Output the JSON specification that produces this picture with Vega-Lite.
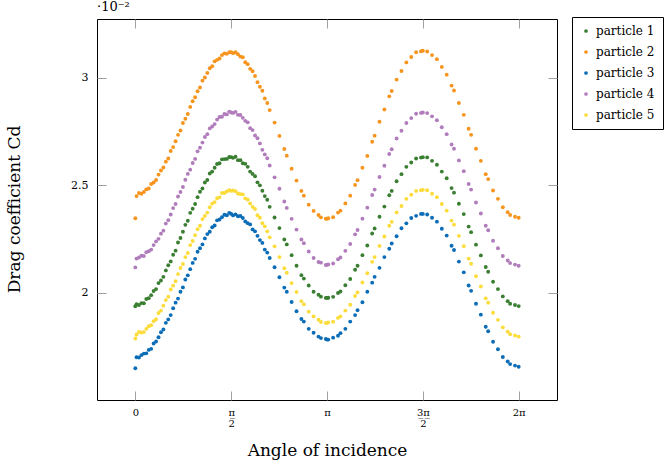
{
"$schema": "https://vega.github.io/schema/vega-lite/v6.json",
"width": 460, "height": 381,
"autosize": {"type": "none"},
"padding": {"left": 97, "top": 19, "right": 107, "bottom": 67},
"title": {"text": "·10⁻²", "anchor": "start", "frame": "group", "fontSize": 13, "font": "DejaVu Serif", "fontWeight": "normal", "offset": 3, "color": "black"},
"config": {
  "view": {"stroke": "black", "strokeWidth": 1},
  "font": "DejaVu Serif",
  "axis": {"labelFont": "DejaVu Serif", "titleFont": "DejaVu Serif", "labelColor": "black", "titleColor": "black", "tickColor": "#a0a0a0", "tickWidth": 1, "tickSize": -9, "domain": false, "grid": false, "titleFontWeight": "normal"},
  "legend": {"labelFont": "DejaVu Serif"}
},
"datasets": {
"p1": [{"a":0,"cd":0.01936},{"a":0.02,"cd":0.01946},{"a":0.06,"cd":0.01942},{"a":0.1,"cd":0.01951},{"a":0.14,"cd":0.0195},{"a":0.18,"cd":0.0197},{"a":0.22,"cd":0.01974},{"a":0.26,"cd":0.01988},{"a":0.3,"cd":0.02007},{"a":0.34,"cd":0.02016},{"a":0.38,"cd":0.02044},{"a":0.42,"cd":0.02056},{"a":0.46,"cd":0.02073},{"a":0.5,"cd":0.02103},{"a":0.54,"cd":0.02127},{"a":0.58,"cd":0.02145},{"a":0.62,"cd":0.02176},{"a":0.66,"cd":0.02195},{"a":0.7,"cd":0.02233},{"a":0.74,"cd":0.02254},{"a":0.78,"cd":0.02283},{"a":0.82,"cd":0.02315},{"a":0.86,"cd":0.02334},{"a":0.9,"cd":0.02371},{"a":0.94,"cd":0.0239},{"a":0.98,"cd":0.02412},{"a":1.02,"cd":0.02444},{"a":1.06,"cd":0.02469},{"a":1.1,"cd":0.02484},{"a":1.14,"cd":0.02512},{"a":1.18,"cd":0.02524},{"a":1.22,"cd":0.02554},{"a":1.26,"cd":0.02563},{"a":1.3,"cd":0.02581},{"a":1.34,"cd":0.02598},{"a":1.38,"cd":0.02602},{"a":1.42,"cd":0.0262},{"a":1.46,"cd":0.02621},{"a":1.5,"cd":0.02622},{"a":1.54,"cd":0.02631},{"a":1.571,"cd":0.0263},{"a":1.602,"cd":0.02627},{"a":1.642,"cd":0.02632},{"a":1.682,"cd":0.02616},{"a":1.722,"cd":0.02616},{"a":1.762,"cd":0.02602},{"a":1.802,"cd":0.02599},{"a":1.842,"cd":0.02585},{"a":1.882,"cd":0.02563},{"a":1.922,"cd":0.02552},{"a":1.962,"cd":0.02541},{"a":2.002,"cd":0.02513},{"a":2.042,"cd":0.02499},{"a":2.082,"cd":0.02474},{"a":2.122,"cd":0.02449},{"a":2.162,"cd":0.02432},{"a":2.202,"cd":0.02399},{"a":2.282,"cd":0.02349},{"a":2.362,"cd":0.023},{"a":2.442,"cd":0.02247},{"a":2.482,"cd":0.02224},{"a":2.562,"cd":0.02174},{"a":2.642,"cd":0.02125},{"a":2.722,"cd":0.02081},{"a":2.762,"cd":0.02065},{"a":2.842,"cd":0.02033},{"a":2.922,"cd":0.02004},{"a":3.002,"cd":0.0199},{"a":3.042,"cd":0.01981},{"a":3.122,"cd":0.01975},{"a":3.142,"cd":0.01975},{"a":3.162,"cd":0.01976},{"a":3.242,"cd":0.0198},{"a":3.322,"cd":0.01998},{"a":3.362,"cd":0.02005},{"a":3.442,"cd":0.02034},{"a":3.522,"cd":0.02063},{"a":3.602,"cd":0.02106},{"a":3.642,"cd":0.02125},{"a":3.722,"cd":0.02174},{"a":3.802,"cd":0.02219},{"a":3.882,"cd":0.02275},{"a":3.922,"cd":0.02298},{"a":4.002,"cd":0.02353},{"a":4.082,"cd":0.024},{"a":4.162,"cd":0.02453},{"a":4.202,"cd":0.02473},{"a":4.282,"cd":0.02518},{"a":4.362,"cd":0.02551},{"a":4.442,"cd":0.02585},{"a":4.522,"cd":0.02605},{"a":4.602,"cd":0.02624},{"a":4.682,"cd":0.02628},{"a":4.712,"cd":0.0263},{"a":4.783,"cd":0.02629},{"a":4.863,"cd":0.02613},{"a":4.943,"cd":0.02595},{"a":5.023,"cd":0.02563},{"a":5.103,"cd":0.02532},{"a":5.183,"cd":0.02486},{"a":5.223,"cd":0.02465},{"a":5.303,"cd":0.02413},{"a":5.383,"cd":0.02365},{"a":5.463,"cd":0.02307},{"a":5.503,"cd":0.02281},{"a":5.583,"cd":0.02223},{"a":5.663,"cd":0.02173},{"a":5.743,"cd":0.02119},{"a":5.783,"cd":0.02097},{"a":5.863,"cd":0.0205},{"a":5.943,"cd":0.02016},{"a":6.023,"cd":0.01982},{"a":6.103,"cd":0.0196},{"a":6.143,"cd":0.01948},{"a":6.223,"cd":0.01942},{"a":6.283,"cd":0.01937}],
"p2": [{"a":0,"cd":0.02346},{"a":0.02,"cd":0.02449},{"a":0.06,"cd":0.02463},{"a":0.1,"cd":0.0246},{"a":0.14,"cd":0.02468},{"a":0.18,"cd":0.0248},{"a":0.22,"cd":0.02484},{"a":0.26,"cd":0.02505},{"a":0.3,"cd":0.02512},{"a":0.34,"cd":0.02524},{"a":0.38,"cd":0.02549},{"a":0.42,"cd":0.02568},{"a":0.46,"cd":0.02582},{"a":0.5,"cd":0.02609},{"a":0.54,"cd":0.02624},{"a":0.58,"cd":0.02659},{"a":0.62,"cd":0.02677},{"a":0.66,"cd":0.02704},{"a":0.7,"cd":0.02734},{"a":0.74,"cd":0.02754},{"a":0.78,"cd":0.02789},{"a":0.82,"cd":0.02809},{"a":0.86,"cd":0.02831},{"a":0.9,"cd":0.02864},{"a":0.94,"cd":0.0289},{"a":0.98,"cd":0.02909},{"a":1.02,"cd":0.02937},{"a":1.06,"cd":0.02954},{"a":1.1,"cd":0.02986},{"a":1.14,"cd":0.03001},{"a":1.18,"cd":0.03022},{"a":1.22,"cd":0.03044},{"a":1.26,"cd":0.03053},{"a":1.3,"cd":0.03076},{"a":1.34,"cd":0.03083},{"a":1.38,"cd":0.03089},{"a":1.42,"cd":0.03105},{"a":1.46,"cd":0.03113},{"a":1.5,"cd":0.03111},{"a":1.54,"cd":0.03118},{"a":1.571,"cd":0.03118},{"a":1.602,"cd":0.03114},{"a":1.642,"cd":0.03118},{"a":1.682,"cd":0.03109},{"a":1.722,"cd":0.03098},{"a":1.762,"cd":0.03095},{"a":1.802,"cd":0.03072},{"a":1.842,"cd":0.03063},{"a":1.882,"cd":0.03041},{"a":1.922,"cd":0.0303},{"a":1.962,"cd":0.03008},{"a":2.002,"cd":0.02979},{"a":2.042,"cd":0.02958},{"a":2.082,"cd":0.02939},{"a":2.122,"cd":0.02903},{"a":2.162,"cd":0.02882},{"a":2.202,"cd":0.02849},{"a":2.282,"cd":0.02791},{"a":2.362,"cd":0.02729},{"a":2.442,"cd":0.02668},{"a":2.482,"cd":0.02637},{"a":2.562,"cd":0.02576},{"a":2.642,"cd":0.02521},{"a":2.722,"cd":0.02473},{"a":2.762,"cd":0.02451},{"a":2.842,"cd":0.02409},{"a":2.922,"cd":0.0238},{"a":3.002,"cd":0.02361},{"a":3.042,"cd":0.0235},{"a":3.122,"cd":0.02344},{"a":3.142,"cd":0.02343},{"a":3.162,"cd":0.02346},{"a":3.242,"cd":0.02351},{"a":3.322,"cd":0.02372},{"a":3.362,"cd":0.02381},{"a":3.442,"cd":0.02415},{"a":3.522,"cd":0.02451},{"a":3.602,"cd":0.02501},{"a":3.642,"cd":0.02523},{"a":3.722,"cd":0.02581},{"a":3.802,"cd":0.02636},{"a":3.882,"cd":0.02702},{"a":3.922,"cd":0.0273},{"a":4.002,"cd":0.02795},{"a":4.082,"cd":0.02852},{"a":4.162,"cd":0.02913},{"a":4.202,"cd":0.02938},{"a":4.282,"cd":0.02991},{"a":4.362,"cd":0.03031},{"a":4.442,"cd":0.03071},{"a":4.522,"cd":0.03096},{"a":4.602,"cd":0.03118},{"a":4.682,"cd":0.03123},{"a":4.712,"cd":0.03125},{"a":4.783,"cd":0.03122},{"a":4.863,"cd":0.03105},{"a":4.943,"cd":0.03086},{"a":5.023,"cd":0.0305},{"a":5.103,"cd":0.03014},{"a":5.183,"cd":0.02963},{"a":5.223,"cd":0.0294},{"a":5.303,"cd":0.02882},{"a":5.383,"cd":0.02827},{"a":5.463,"cd":0.02762},{"a":5.503,"cd":0.02734},{"a":5.583,"cd":0.02669},{"a":5.663,"cd":0.02613},{"a":5.743,"cd":0.02551},{"a":5.783,"cd":0.02528},{"a":5.863,"cd":0.02475},{"a":5.943,"cd":0.02436},{"a":6.023,"cd":0.02397},{"a":6.103,"cd":0.02374},{"a":6.143,"cd":0.02361},{"a":6.223,"cd":0.02353},{"a":6.283,"cd":0.02348}],
"p3": [{"a":0,"cd":0.01648},{"a":0.02,"cd":0.01699},{"a":0.06,"cd":0.01698},{"a":0.1,"cd":0.01709},{"a":0.14,"cd":0.01716},{"a":0.18,"cd":0.01717},{"a":0.22,"cd":0.01733},{"a":0.26,"cd":0.01738},{"a":0.3,"cd":0.01763},{"a":0.34,"cd":0.01772},{"a":0.38,"cd":0.01792},{"a":0.42,"cd":0.01815},{"a":0.46,"cd":0.01828},{"a":0.5,"cd":0.01859},{"a":0.54,"cd":0.01875},{"a":0.58,"cd":0.01895},{"a":0.62,"cd":0.01927},{"a":0.66,"cd":0.01953},{"a":0.7,"cd":0.01972},{"a":0.74,"cd":0.02004},{"a":0.78,"cd":0.02024},{"a":0.82,"cd":0.02061},{"a":0.86,"cd":0.0208},{"a":0.9,"cd":0.02109},{"a":0.94,"cd":0.02138},{"a":0.98,"cd":0.02157},{"a":1.02,"cd":0.0219},{"a":1.06,"cd":0.02206},{"a":1.1,"cd":0.02224},{"a":1.14,"cd":0.02252},{"a":1.18,"cd":0.02272},{"a":1.22,"cd":0.02283},{"a":1.26,"cd":0.02304},{"a":1.3,"cd":0.02312},{"a":1.34,"cd":0.02336},{"a":1.38,"cd":0.0234},{"a":1.42,"cd":0.02351},{"a":1.46,"cd":0.02362},{"a":1.5,"cd":0.0236},{"a":1.54,"cd":0.02371},{"a":1.571,"cd":0.02366},{"a":1.602,"cd":0.02359},{"a":1.642,"cd":0.02364},{"a":1.682,"cd":0.02355},{"a":1.722,"cd":0.02356},{"a":1.762,"cd":0.02347},{"a":1.802,"cd":0.02331},{"a":1.842,"cd":0.02323},{"a":1.882,"cd":0.02317},{"a":1.922,"cd":0.02294},{"a":1.962,"cd":0.02285},{"a":2.002,"cd":0.02264},{"a":2.042,"cd":0.02244},{"a":2.082,"cd":0.02231},{"a":2.122,"cd":0.022},{"a":2.162,"cd":0.02186},{"a":2.202,"cd":0.02161},{"a":2.282,"cd":0.02118},{"a":2.362,"cd":0.02071},{"a":2.442,"cd":0.02023},{"a":2.482,"cd":0.02004},{"a":2.562,"cd":0.01956},{"a":2.642,"cd":0.01913},{"a":2.722,"cd":0.01877},{"a":2.762,"cd":0.01865},{"a":2.842,"cd":0.01831},{"a":2.922,"cd":0.01813},{"a":3.002,"cd":0.01795},{"a":3.042,"cd":0.01788},{"a":3.122,"cd":0.01784},{"a":3.142,"cd":0.01781},{"a":3.162,"cd":0.01781},{"a":3.242,"cd":0.0179},{"a":3.322,"cd":0.01799},{"a":3.362,"cd":0.01811},{"a":3.442,"cd":0.01831},{"a":3.522,"cd":0.01865},{"a":3.602,"cd":0.01895},{"a":3.642,"cd":0.01918},{"a":3.722,"cd":0.01955},{"a":3.802,"cd":0.02004},{"a":3.882,"cd":0.02046},{"a":3.922,"cd":0.02073},{"a":4.002,"cd":0.02115},{"a":4.082,"cd":0.02165},{"a":4.162,"cd":0.02204},{"a":4.202,"cd":0.02228},{"a":4.282,"cd":0.02262},{"a":4.362,"cd":0.02299},{"a":4.442,"cd":0.02322},{"a":4.522,"cd":0.02347},{"a":4.602,"cd":0.02357},{"a":4.682,"cd":0.02366},{"a":4.712,"cd":0.02366},{"a":4.783,"cd":0.02363},{"a":4.863,"cd":0.02348},{"a":4.943,"cd":0.0233},{"a":5.023,"cd":0.02297},{"a":5.103,"cd":0.02265},{"a":5.183,"cd":0.02218},{"a":5.223,"cd":0.02198},{"a":5.303,"cd":0.02144},{"a":5.383,"cd":0.02094},{"a":5.463,"cd":0.02033},{"a":5.503,"cd":0.02008},{"a":5.583,"cd":0.01948},{"a":5.663,"cd":0.01897},{"a":5.743,"cd":0.01841},{"a":5.783,"cd":0.0182},{"a":5.863,"cd":0.01771},{"a":5.943,"cd":0.01736},{"a":6.023,"cd":0.017},{"a":6.103,"cd":0.01679},{"a":6.143,"cd":0.01667},{"a":6.223,"cd":0.0166},{"a":6.283,"cd":0.01655}],
"p4": [{"a":0,"cd":0.02117},{"a":0.02,"cd":0.02158},{"a":0.06,"cd":0.02163},{"a":0.1,"cd":0.02171},{"a":0.14,"cd":0.0217},{"a":0.18,"cd":0.02188},{"a":0.22,"cd":0.02192},{"a":0.26,"cd":0.022},{"a":0.3,"cd":0.02221},{"a":0.34,"cd":0.02238},{"a":0.38,"cd":0.0225},{"a":0.42,"cd":0.02274},{"a":0.46,"cd":0.02288},{"a":0.5,"cd":0.02321},{"a":0.54,"cd":0.02337},{"a":0.58,"cd":0.02363},{"a":0.62,"cd":0.02393},{"a":0.66,"cd":0.02412},{"a":0.7,"cd":0.02447},{"a":0.74,"cd":0.02468},{"a":0.78,"cd":0.02491},{"a":0.82,"cd":0.02525},{"a":0.86,"cd":0.02552},{"a":0.9,"cd":0.02572},{"a":0.94,"cd":0.02603},{"a":0.98,"cd":0.02622},{"a":1.02,"cd":0.02657},{"a":1.06,"cd":0.02674},{"a":1.1,"cd":0.02698},{"a":1.14,"cd":0.02724},{"a":1.18,"cd":0.02737},{"a":1.22,"cd":0.02764},{"a":1.26,"cd":0.02773},{"a":1.3,"cd":0.02784},{"a":1.34,"cd":0.02805},{"a":1.38,"cd":0.02817},{"a":1.42,"cd":0.02818},{"a":1.46,"cd":0.02831},{"a":1.5,"cd":0.02829},{"a":1.54,"cd":0.02842},{"a":1.571,"cd":0.02838},{"a":1.602,"cd":0.02836},{"a":1.642,"cd":0.02841},{"a":1.682,"cd":0.02827},{"a":1.722,"cd":0.02826},{"a":1.762,"cd":0.02813},{"a":1.802,"cd":0.02799},{"a":1.842,"cd":0.02792},{"a":1.882,"cd":0.02765},{"a":1.922,"cd":0.02756},{"a":1.962,"cd":0.02731},{"a":2.002,"cd":0.02718},{"a":2.042,"cd":0.02694},{"a":2.082,"cd":0.02664},{"a":2.122,"cd":0.02643},{"a":2.162,"cd":0.02625},{"a":2.202,"cd":0.02591},{"a":2.282,"cd":0.02536},{"a":2.362,"cd":0.02483},{"a":2.442,"cd":0.02424},{"a":2.482,"cd":0.02394},{"a":2.562,"cd":0.02343},{"a":2.642,"cd":0.02293},{"a":2.722,"cd":0.02247},{"a":2.762,"cd":0.0223},{"a":2.842,"cd":0.02191},{"a":2.922,"cd":0.02161},{"a":3.002,"cd":0.02142},{"a":3.042,"cd":0.02139},{"a":3.122,"cd":0.02128},{"a":3.142,"cd":0.02129},{"a":3.162,"cd":0.02131},{"a":3.242,"cd":0.02135},{"a":3.322,"cd":0.02155},{"a":3.362,"cd":0.02163},{"a":3.442,"cd":0.02194},{"a":3.522,"cd":0.02226},{"a":3.602,"cd":0.02271},{"a":3.642,"cd":0.02291},{"a":3.722,"cd":0.02344},{"a":3.802,"cd":0.02395},{"a":3.882,"cd":0.02454},{"a":3.922,"cd":0.02479},{"a":4.002,"cd":0.02538},{"a":4.082,"cd":0.0259},{"a":4.162,"cd":0.02645},{"a":4.202,"cd":0.02667},{"a":4.282,"cd":0.02717},{"a":4.362,"cd":0.02753},{"a":4.442,"cd":0.02789},{"a":4.522,"cd":0.02812},{"a":4.602,"cd":0.02832},{"a":4.682,"cd":0.02836},{"a":4.712,"cd":0.02838},{"a":4.783,"cd":0.02835},{"a":4.863,"cd":0.0282},{"a":4.943,"cd":0.02802},{"a":5.023,"cd":0.02769},{"a":5.103,"cd":0.02737},{"a":5.183,"cd":0.02689},{"a":5.223,"cd":0.02669},{"a":5.303,"cd":0.02615},{"a":5.383,"cd":0.02565},{"a":5.463,"cd":0.02505},{"a":5.503,"cd":0.02479},{"a":5.583,"cd":0.02419},{"a":5.663,"cd":0.02368},{"a":5.743,"cd":0.02311},{"a":5.783,"cd":0.0229},{"a":5.863,"cd":0.02241},{"a":5.943,"cd":0.02206},{"a":6.023,"cd":0.0217},{"a":6.103,"cd":0.02149},{"a":6.143,"cd":0.02137},{"a":6.223,"cd":0.0213},{"a":6.283,"cd":0.02125}],
"p5": [{"a":0,"cd":0.01786},{"a":0.02,"cd":0.01805},{"a":0.06,"cd":0.01817},{"a":0.1,"cd":0.01814},{"a":0.14,"cd":0.01816},{"a":0.18,"cd":0.01831},{"a":0.22,"cd":0.01843},{"a":0.26,"cd":0.01848},{"a":0.3,"cd":0.01867},{"a":0.34,"cd":0.01876},{"a":0.38,"cd":0.01905},{"a":0.42,"cd":0.01916},{"a":0.46,"cd":0.01939},{"a":0.5,"cd":0.01965},{"a":0.54,"cd":0.01981},{"a":0.58,"cd":0.02014},{"a":0.62,"cd":0.02032},{"a":0.66,"cd":0.02053},{"a":0.7,"cd":0.02086},{"a":0.74,"cd":0.02114},{"a":0.78,"cd":0.02133},{"a":0.82,"cd":0.02165},{"a":0.86,"cd":0.02184},{"a":0.9,"cd":0.02221},{"a":0.94,"cd":0.0224},{"a":0.98,"cd":0.02267},{"a":1.02,"cd":0.02295},{"a":1.06,"cd":0.02311},{"a":1.1,"cd":0.02342},{"a":1.14,"cd":0.02356},{"a":1.18,"cd":0.02372},{"a":1.22,"cd":0.02397},{"a":1.26,"cd":0.02414},{"a":1.3,"cd":0.02421},{"a":1.34,"cd":0.02439},{"a":1.38,"cd":0.02443},{"a":1.42,"cd":0.02463},{"a":1.46,"cd":0.02463},{"a":1.5,"cd":0.0247},{"a":1.54,"cd":0.02476},{"a":1.571,"cd":0.02473},{"a":1.602,"cd":0.02475},{"a":1.642,"cd":0.02472},{"a":1.682,"cd":0.02461},{"a":1.722,"cd":0.02458},{"a":1.762,"cd":0.02457},{"a":1.802,"cd":0.02438},{"a":1.842,"cd":0.02433},{"a":1.882,"cd":0.02415},{"a":1.922,"cd":0.02399},{"a":1.962,"cd":0.02389},{"a":2.002,"cd":0.0236},{"a":2.042,"cd":0.02348},{"a":2.082,"cd":0.02323},{"a":2.122,"cd":0.02308},{"a":2.162,"cd":0.02285},{"a":2.202,"cd":0.02257},{"a":2.282,"cd":0.02215},{"a":2.362,"cd":0.02165},{"a":2.442,"cd":0.02113},{"a":2.482,"cd":0.02092},{"a":2.562,"cd":0.02044},{"a":2.642,"cd":0.02003},{"a":2.722,"cd":0.0196},{"a":2.762,"cd":0.01945},{"a":2.842,"cd":0.01911},{"a":2.922,"cd":0.01889},{"a":3.002,"cd":0.01874},{"a":3.042,"cd":0.01863},{"a":3.122,"cd":0.01858},{"a":3.142,"cd":0.01859},{"a":3.162,"cd":0.01861},{"a":3.242,"cd":0.01864},{"a":3.322,"cd":0.01882},{"a":3.362,"cd":0.01889},{"a":3.442,"cd":0.01916},{"a":3.522,"cd":0.01943},{"a":3.602,"cd":0.01984},{"a":3.642,"cd":0.02001},{"a":3.722,"cd":0.02047},{"a":3.802,"cd":0.0209},{"a":3.882,"cd":0.02143},{"a":3.922,"cd":0.02165},{"a":4.002,"cd":0.02217},{"a":4.082,"cd":0.02261},{"a":4.162,"cd":0.02311},{"a":4.202,"cd":0.02329},{"a":4.282,"cd":0.02373},{"a":4.362,"cd":0.02403},{"a":4.442,"cd":0.02436},{"a":4.522,"cd":0.02455},{"a":4.602,"cd":0.02473},{"a":4.682,"cd":0.02476},{"a":4.712,"cd":0.02478},{"a":4.783,"cd":0.02476},{"a":4.863,"cd":0.0246},{"a":4.943,"cd":0.02444},{"a":5.023,"cd":0.02412},{"a":5.103,"cd":0.02381},{"a":5.183,"cd":0.02335},{"a":5.223,"cd":0.02316},{"a":5.303,"cd":0.02264},{"a":5.383,"cd":0.02216},{"a":5.463,"cd":0.02158},{"a":5.503,"cd":0.02134},{"a":5.583,"cd":0.02076},{"a":5.663,"cd":0.02028},{"a":5.743,"cd":0.01973},{"a":5.783,"cd":0.01953},{"a":5.863,"cd":0.01906},{"a":5.943,"cd":0.01873},{"a":6.023,"cd":0.01838},{"a":6.103,"cd":0.01818},{"a":6.143,"cd":0.01806},{"a":6.223,"cd":0.018},{"a":6.283,"cd":0.01795}]
},
"layer": [
  {"data": {"name": "p1"}, "mark": {"type": "point", "filled": true, "size": 15, "opacity": 1},
   "encoding": {
     "x": {"field": "a", "type": "quantitative", "scale": {"domain": [-0.628, 6.911], "nice": false, "zero": false},
       "axis": {"orient": "bottom", "values": [0, 1.5708, 3.1416, 4.7124, 6.2832], "labelExpr": "datum.value < 0.5 ? '0' : datum.value < 2 ? ['π̲', '2'] : datum.value < 4 ? 'π' : datum.value < 5 ? ['3̲π̲', '2'] : '2π'", "labelFontSize": 10, "labelPadding": 21, "labelBaseline": "middle", "labelLineHeight": 11, "title": "Angle of incidence", "titleFontSize": 17, "titleBaseline": "alphabetic", "titleY": 55}},
     "y": {"field": "cd", "type": "quantitative", "scale": {"domain": [0.015, 0.03273], "nice": false, "zero": false},
       "axis": {"orient": "left", "values": [0.02, 0.025, 0.03], "labelExpr": "format(datum.value * 100, '.2~f')", "labelFontSize": 11, "labelPadding": 18, "title": "Drag coefficient Cd", "titleFontSize": 17, "titleBaseline": "alphabetic", "titleAngle": -90, "titleX": -78, "titleY": 190}},
     "color": {"datum": "particle 1", "type": "nominal",
       "scale": {"domain": ["particle 1", "particle 2", "particle 3", "particle 4", "particle 5"], "range": ["#3a7f31", "#f7941d", "#0b6db7", "#b07cbb", "#fcdc3b"]},
       "legend": {"title": null, "orient": "none", "legendX": 475, "legendY": -2, "strokeColor": "black", "fillColor": "white", "padding": 8, "symbolType": "circle", "symbolSize": 14, "labelFont": "DejaVu Serif", "labelFontSize": 12, "labelColor": "black", "rowPadding": 9, "labelOffset": 4, "cornerRadius": 0}}
   }},
  {"data": {"name": "p2"}, "mark": {"type": "point", "filled": true, "size": 15, "opacity": 1},
   "encoding": {"x": {"field": "a", "type": "quantitative", "scale": {"domain": [-0.628, 6.911], "nice": false, "zero": false}, "axis": null},
     "y": {"field": "cd", "type": "quantitative", "scale": {"domain": [0.015, 0.03273], "nice": false, "zero": false}, "axis": null},
     "color": {"datum": "particle 2", "type": "nominal"}}},
  {"data": {"name": "p3"}, "mark": {"type": "point", "filled": true, "size": 15, "opacity": 1},
   "encoding": {"x": {"field": "a", "type": "quantitative", "scale": {"domain": [-0.628, 6.911], "nice": false, "zero": false}, "axis": null},
     "y": {"field": "cd", "type": "quantitative", "scale": {"domain": [0.015, 0.03273], "nice": false, "zero": false}, "axis": null},
     "color": {"datum": "particle 3", "type": "nominal"}}},
  {"data": {"name": "p4"}, "mark": {"type": "point", "filled": true, "size": 15, "opacity": 1},
   "encoding": {"x": {"field": "a", "type": "quantitative", "scale": {"domain": [-0.628, 6.911], "nice": false, "zero": false}, "axis": null},
     "y": {"field": "cd", "type": "quantitative", "scale": {"domain": [0.015, 0.03273], "nice": false, "zero": false}, "axis": null},
     "color": {"datum": "particle 4", "type": "nominal"}}},
  {"data": {"name": "p5"}, "mark": {"type": "point", "filled": true, "size": 15, "opacity": 1},
   "encoding": {"x": {"field": "a", "type": "quantitative", "scale": {"domain": [-0.628, 6.911], "nice": false, "zero": false}, "axis": null},
     "y": {"field": "cd", "type": "quantitative", "scale": {"domain": [0.015, 0.03273], "nice": false, "zero": false}, "axis": null},
     "color": {"datum": "particle 5", "type": "nominal"}}},
  {"data": {"name": "p1"}, "mark": {"type": "point", "opacity": 0},
   "encoding": {"x": {"field": "a", "type": "quantitative", "scale": {"domain": [-0.628, 6.911], "nice": false, "zero": false}, "axis": {"orient": "top", "values": [0, 1.5708, 3.1416, 4.7124, 6.2832], "labels": false, "title": null}},
     "y": {"field": "cd", "type": "quantitative", "scale": {"domain": [0.015, 0.03273], "nice": false, "zero": false}, "axis": {"orient": "right", "values": [0.02, 0.025, 0.03], "labels": false, "title": null}}}}
],
"resolve": {"axis": {"x": "independent", "y": "independent"}}
}
